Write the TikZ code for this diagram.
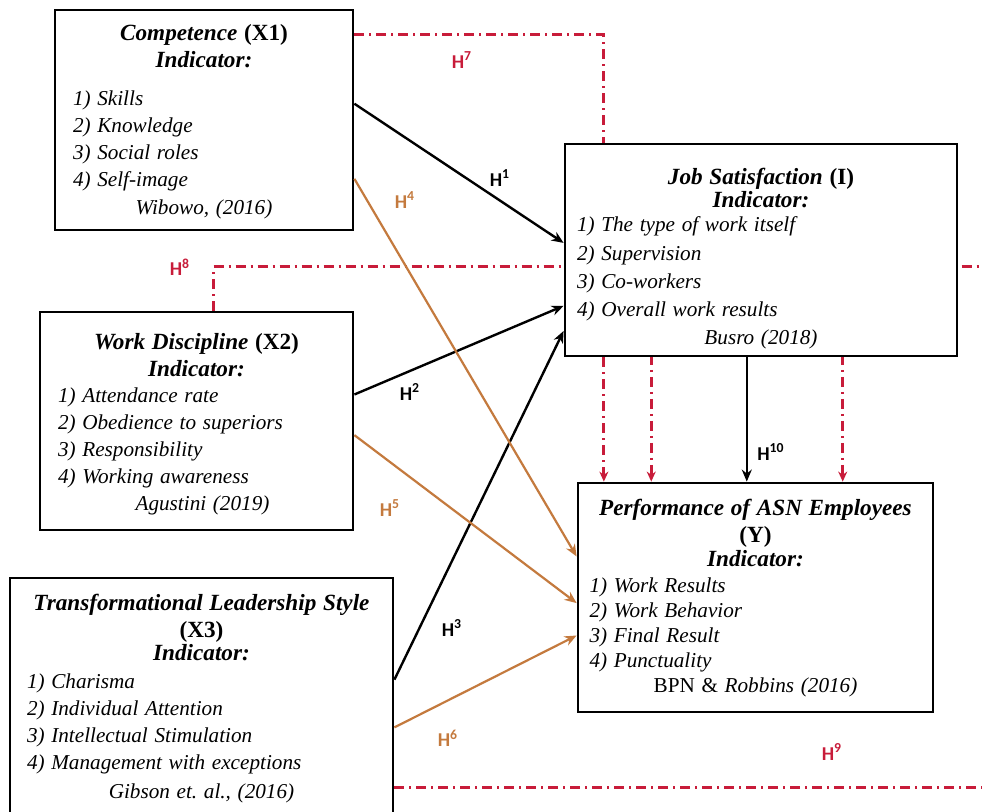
\documentclass[tikz,border=0pt]{standalone}
\usepackage{fontspec}
\setmainfont{Liberation Serif}
\newfontfamily\lblfont{Carlito}
\usetikzlibrary{arrows.meta,calc,backgrounds}
\definecolor{hypred}{RGB}{200,28,58}
\definecolor{hyporange}{RGB}{196,122,62}
\newcommand\headfont{\fontsize{11.6}{13.3}\selectfont}
\newcommand\listfont[1]{\fontsize{10.6}{#1}\selectfont}
\tikzset{
  varbox/.style={draw=black, line width=1.4pt, fill=white, inner sep=0pt},
  boxtext/.style={anchor=north, inner sep=0pt, align=left},
  direct/.style={draw=black, line width=1.2pt, -{Stealth[length=6pt,width=5pt]}},
  viaorange/.style={draw=hyporange, line width=1.1pt, -{Stealth[length=6pt,width=5pt]}},
  mediated/.style={draw=hypred, line width=1.5pt, dash pattern=on 5pt off 2.5pt on 1pt off 2.5pt},
  medarrow/.style={mediated, -{Stealth[length=5pt,width=4.5pt]}},
  hlabel/.style={font=\lblfont\bfseries\fontsize{9.8}{10}\selectfont, inner sep=0pt},
}
\begin{document}
\begin{tikzpicture}[x=0.5pt,y=-0.5pt]
\clip (0,0) rectangle (982,812);
\begin{pgfonlayer}{background}
\fill[white] (0,0) rectangle (982,812);
\end{pgfonlayer}

% variable boxes
\node[varbox, minimum width=149pt, minimum height=110pt] (X1) at (204,120) {};
\node[varbox, minimum width=156.5pt, minimum height=109pt] (X2) at (196.5,421) {};
\node[varbox, minimum width=191.5pt, minimum height=121pt] (X3) at (201.5,699) {};
\node[varbox, minimum width=196pt, minimum height=106pt] (JS) at (761,250) {};
\node[varbox, minimum width=177.5pt, minimum height=114.5pt] (Y) at (755.5,597.5) {};

% box contents
\node[boxtext, text width=131pt] (X1t) at (204,24) {%
{\centering\headfont\textbf{\textit{Competence} (X1)}\\\textbf{\textit{Indicator:}}\par}\vspace{5.5pt}
{\raggedright\listfont{13.6}\textit{1) Skills\\2) Knowledge\\3) Social roles\\4) Self-image}\par}
{\centering\listfont{13.6}\textit{Wibowo, (2016)}\par}};

\node[boxtext, text width=138.5pt] (X2t) at (196.5,333) {%
{\centering\headfont\textbf{\textit{Work Discipline} (X2)}\\\textbf{\textit{Indicator:}}\par}
{\raggedright\listfont{13.4}\textit{1) Attendance rate\\2) Obedience to superiors\\3) Responsibility\\4) Working awareness}\par}
{\centering\listfont{13.4}\hspace*{6pt}\textit{Agustini (2019)}\par}};

\node[boxtext, text width=174.5pt] (X3t) at (201.5,594) {%
{\centering\headfont\textbf{\textit{Transformational Leadership Style}}\\\textbf{(X3)}\\[-1.5pt]\textbf{\textit{Indicator:}}\par}
{\raggedright\listfont{13.6}\textit{1) Charisma\\2) Individual Attention\\3) Intellectual Stimulation\\4) Management with exceptions}\par}
{\centering\listfont{14.2}\textit{Gibson et.\ al., (2016)}\par}};

\node[boxtext, text width=184pt] (JSt) at (761,168) {%
{\centering\headfont\textbf{\textit{Job Satisfaction} (I)}\\[-1.8pt]\textbf{\textit{Indicator:}}\par}\vspace{-2pt}
{\raggedright\listfont{14.1}\textit{1) The type of work itself\\2) Supervision\\3) Co-workers\\4) Overall work results}\par}
{\centering\listfont{14.1}\textit{Busro (2018)}\par}};

\node[boxtext, text width=166pt] (Yt) at (755.5,499) {%
{\centering\headfont\textbf{\textit{Performance of ASN Employees}}\\\textbf{(Y)}\\[-1pt]\textbf{\textit{Indicator:}}\par}
{\raggedright\listfont{12.6}\textit{1) Work Results\\2) Work Behavior\\3) Final Result\\4) Punctuality}\par}
{\centering\listfont{12.6}BPN \& \textit{Robbins (2016)}\par}};

% mediated (dash-dot) paths, kept behind the boxes
\coordinate (c7) at ($(JS.south west)!0.102!(JS.south east)$);
\coordinate (c8a) at ($(JS.south west)!0.222!(JS.south east)$);
\coordinate (c8b) at ($(JS.south west)!0.707!(JS.south east)$);
\coordinate (h8end) at (982,267);
\coordinate (h9end) at (982,786);
\begin{pgfonlayer}{background}
\draw[medarrow] ($(X1.north east)!0.118!(X1.south east)$) -| (c7 |- Y.north);
\draw[mediated] ($(X2.north west)!0.553!(X2.north east)$) |- (h8end);
\draw[medarrow] (c8a |- h8end) -- (c8a |- Y.north);
\draw[medarrow] (c8b |- h8end) -- (c8b |- Y.north);
\end{pgfonlayer}
\coordinate (h9start) at ($(X3.north east)!0.86!(X3.south east)$);
\draw[mediated] (h9start) -- (h9start -| h9end);

% direct paths to job satisfaction and performance
\draw[direct] ($(X1.north east)!0.427!(X1.south east)$) -- ($(JS.north west)!0.467!(JS.south west)$);
\draw[direct] ($(X2.north east)!0.38!(X2.south east)$) -- ($(JS.north west)!0.76!(JS.south west)$);
\draw[direct] ($(X3.north east)!0.421!(X3.south east)$) -- ($(JS.north west)!0.877!(JS.south west)$);
\coordinate (c10) at ($(JS.south west)!0.464!(JS.south east)$);
\draw[direct] (c10) -- (c10 |- Y.north);

\draw[viaorange] ($(X1.north east)!0.764!(X1.south east)$) -- ($(Y.north west)!0.323!(Y.south west)$);
\draw[viaorange] ($(X2.north east)!0.564!(X2.south east)$) -- ($(Y.north west)!0.524!(Y.south west)$);
\draw[viaorange] ($(X3.north east)!0.616!(X3.south east)$) -- ($(Y.north west)!0.664!(Y.south west)$);

% hypothesis labels
\node[hlabel, text=hypred] (h7) at (462,60) {H\textsuperscript{7}};
\node[hlabel] (h1) at (500,178) {H\textsuperscript{1}};
\node[hlabel, text=hyporange] (h4) at (405,200) {H\textsuperscript{4}};
\node[hlabel, text=hypred] (h8) at (180,267) {H\textsuperscript{8}};
\node[hlabel] (h2) at (410,392) {H\textsuperscript{2}};
\node[hlabel, text=hyporange] (h5) at (390,508) {H\textsuperscript{5}};
\node[hlabel] (h3) at (452,628) {H\textsuperscript{3}};
\node[hlabel, text=hyporange] (h6) at (448,738) {H\textsuperscript{6}};
\node[hlabel, text=hypred] (h9) at (832,752) {H\textsuperscript{9}};
\node[hlabel] (h10) at (771,452) {H\textsuperscript{10}};
\end{tikzpicture}
\end{document}
